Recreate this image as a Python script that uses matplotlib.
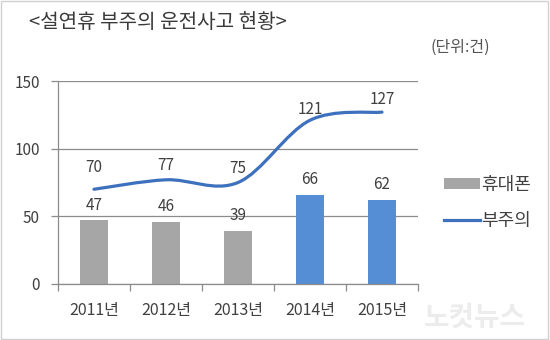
import numpy as np
import matplotlib.pyplot as plt
from matplotlib.path import Path
from matplotlib.patches import PathPatch, Rectangle
from matplotlib.lines import Line2D
from matplotlib.patches import Patch

plt.rcParams['font.family'] = ['Noto Sans CJK KR', 'DejaVu Sans']

years = ['2011년', '2012년', '2013년', '2014년', '2015년']
phone = [47, 46, 39, 66, 62]          # 휴대폰
careless = [70, 77, 75, 121, 127]     # 부주의
bar_colors = ['#a6a6a6', '#a6a6a6', '#a6a6a6', '#558ed5', '#558ed5']
line_color = '#3d70bd'
text_color = '#404040'


def smooth_path(xs, ys, t=1/6):
    '''Bezier path through the points, Catmull-Rom style tangents'''
    n = len(xs)
    verts = [(xs[0], ys[0])]
    codes = [Path.MOVETO]
    for i in range(n - 1):
        p0 = max(i - 1, 0)
        p3 = min(i + 2, n - 1)
        c1 = (xs[i] + (xs[i + 1] - xs[p0]) * t, ys[i] + (ys[i + 1] - ys[p0]) * t)
        c2 = (xs[i + 1] - (xs[p3] - xs[i]) * t, ys[i + 1] - (ys[p3] - ys[i]) * t)
        verts += [c1, c2, (xs[i + 1], ys[i + 1])]
        codes += [Path.CURVE4] * 3
    return Path(verts, codes)


fig = plt.figure(figsize=(5.5, 3.4), dpi=100)
ax = fig.add_axes([58/550, 1 - 284/340, 360/550, 203/340])

x = np.arange(len(years))
ax.bar(x, phone, width=0.4, color=bar_colors, zorder=2)
ax.add_patch(PathPatch(smooth_path(x, careless), facecolor='none',
                       edgecolor=line_color, lw=2.3, capstyle='round', zorder=3))

for xi, v in zip(x, phone):
    ax.annotate(str(v), (xi, v), xytext=(0, 11), textcoords='offset points',
                ha='center', va='center', fontsize=11, color=text_color, zorder=4)
line_offsets = [16, 10, 10, 8, 9]
for xi, v, off in zip(x, careless, line_offsets):
    ax.annotate(str(v), (xi, v), xytext=(0, off), textcoords='offset points',
                ha='center', va='center', fontsize=11, color=text_color, zorder=4)

ax.set_xlim(-0.5, len(years) - 0.5)
ax.set_ylim(0, 150)
ax.set_yticks([0, 50, 100, 150])
ax.yaxis.grid(True, color='#8c8c8c', lw=0.9, zorder=0)
ax.set_axisbelow(True)
for s in ['top', 'right']:
    ax.spines[s].set_visible(False)
for s in ['left', 'bottom']:
    ax.spines[s].set_color('#8c8c8c')
    ax.spines[s].set_linewidth(0.9)
ax.tick_params(axis='y', length=5, width=0.9, color='#8c8c8c', pad=8,
               labelsize=11, labelcolor=text_color)
ax.set_xticks(np.arange(len(years) + 1) - 0.5)
ax.set_xticklabels([])
ax.set_xticks(x, minor=True)
ax.set_xticklabels(years, minor=True)
ax.tick_params(axis='x', which='major', length=5, width=0.9, color='#8c8c8c')
ax.tick_params(axis='x', which='minor', length=0, pad=13,
               labelsize=11.5, labelcolor=text_color)

handles = [Patch(facecolor='#a6a6a6', edgecolor='none', label='휴대폰'),
           Line2D([], [], color=line_color, lw=2.3, label='부주의')]
fig.legend(handles=handles, loc='center left', bbox_to_anchor=(428/550, 1 - 203/340),
           frameon=False, fontsize=13, handlelength=2.0, handleheight=0.5,
           handletextpad=0.05, labelspacing=1.0, labelcolor=text_color)

fig.text(29/550, 1 - 22/340, '<설연휴 부주의 운전사고 현황>', fontsize=14.5,
         color='#3a3a3a', va='center', ha='left', fontweight='medium')
fig.text(490/550, 1 - 47/340, '(단위:건)', fontsize=11.5, color='#555555',
         va='center', ha='right')
fig.text(475/550, 1 - 318/340, '노컷뉴스', fontsize=20, color='#ececec',
         va='center', ha='center', style='italic', fontweight='bold', zorder=0)

fig.patches.append(Rectangle((0.002, 0.003), 0.995, 0.994, transform=fig.transFigure,
                             fill=False, edgecolor='#d0d0d0', lw=1))

fig.savefig('out.png', dpi=100)
